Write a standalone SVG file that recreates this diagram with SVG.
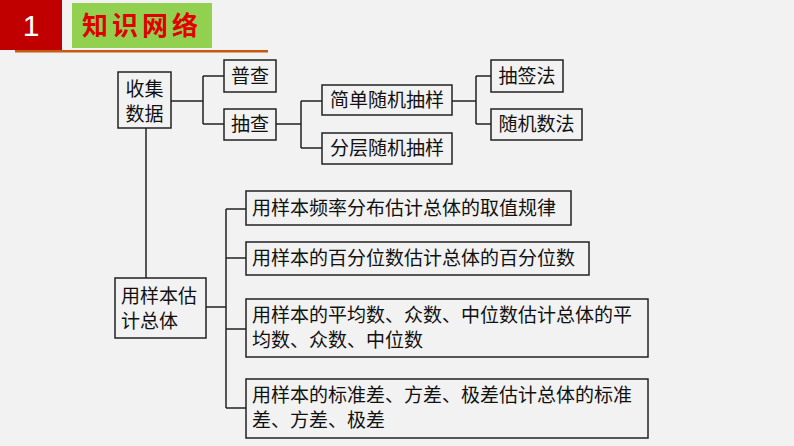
<svg xmlns="http://www.w3.org/2000/svg" width="794" height="446" viewBox="0 0 794 446">
<style>
.b{fill:#f2f2f2;stroke:#222;stroke-width:1.5}
.t{font-family:"Noto Sans CJK SC",sans-serif;font-size:19px;fill:#111}
.c{fill:none;stroke:#222;stroke-width:1.5}
</style>
<rect width="794" height="446" fill="#f2f2f2"/>
<g id="header">
<rect x="0" y="0" width="62" height="50" fill="#c00000"/>
<text x="31" y="36" text-anchor="middle" font-family="Liberation Sans,sans-serif" font-size="30" fill="#fff">1</text>
<rect x="72" y="3" width="140" height="45" fill="#92d050"/>
<text x="142" y="35" text-anchor="middle" font-family="Noto Sans CJK SC,sans-serif" font-weight="bold" font-size="26" letter-spacing="4" style="fill:#e00000">知识网络</text>
<rect x="15" y="50" width="253" height="2.5" fill="#c55a11"/>
</g>
<g id="connectors">
<path class="c" d="M171 101H203M203 76V124M203 76H224M203 124H224"/>
<path class="c" d="M276 124H301M301 101V148M301 101H322M301 148H322"/>
<path class="c" d="M452 101H476M476 76V124M476 76H491M476 124H491"/>
<path class="c" d="M146 128V278"/>
<path class="c" d="M206 307H226M226 209V408M226 209H246M226 258H246M226 329H246M226 408H246"/>
</g>
<g id="n1"><rect class="b" x="118" y="72" width="53" height="56"/><text class="t" x="144.5" y="96" text-anchor="middle">收集</text><text class="t" x="144.5" y="121" text-anchor="middle">数据</text></g>
<g id="n2"><rect class="b" x="224" y="60" width="52" height="32"/><text class="t" x="250" y="83" text-anchor="middle">普查</text></g>
<g id="n3"><rect class="b" x="224" y="109" width="52" height="31"/><text class="t" x="250" y="131" text-anchor="middle">抽查</text></g>
<g id="n4"><rect class="b" x="322" y="85" width="130" height="30"/><text class="t" x="387" y="107" text-anchor="middle">简单随机抽样</text></g>
<g id="n5"><rect class="b" x="322" y="133" width="130" height="31"/><text class="t" x="387" y="155" text-anchor="middle">分层随机抽样</text></g>
<g id="n6"><rect class="b" x="491" y="60" width="72" height="32"/><text class="t" x="527" y="83" text-anchor="middle">抽签法</text></g>
<g id="n7"><rect class="b" x="491" y="109" width="91" height="31"/><text class="t" x="536.5" y="131" text-anchor="middle">随机数法</text></g>
<g id="n8"><rect class="b" x="115" y="278" width="91" height="60"/><text class="t" x="121" y="303">用样本估</text><text class="t" x="121" y="328">计总体</text></g>
<g id="n9"><rect class="b" x="246" y="191" width="325" height="34"/><text class="t" x="252" y="215">用样本频率分布估计总体的取值规律</text></g>
<g id="n10"><rect class="b" x="246" y="242" width="343" height="33"/><text class="t" x="252" y="265">用样本的百分位数估计总体的百分位数</text></g>
<g id="n11"><rect class="b" x="246" y="299" width="402" height="58"/><text class="t" x="252" y="322">用样本的平均数、众数、中位数估计总体的平</text><text class="t" x="252" y="347">均数、众数、中位数</text></g>
<g id="n12"><rect class="b" x="246" y="379" width="402" height="59"/><text class="t" x="252" y="402">用样本的标准差、方差、极差估计总体的标准</text><text class="t" x="252" y="427">差、方差、极差</text></g>
</svg>
